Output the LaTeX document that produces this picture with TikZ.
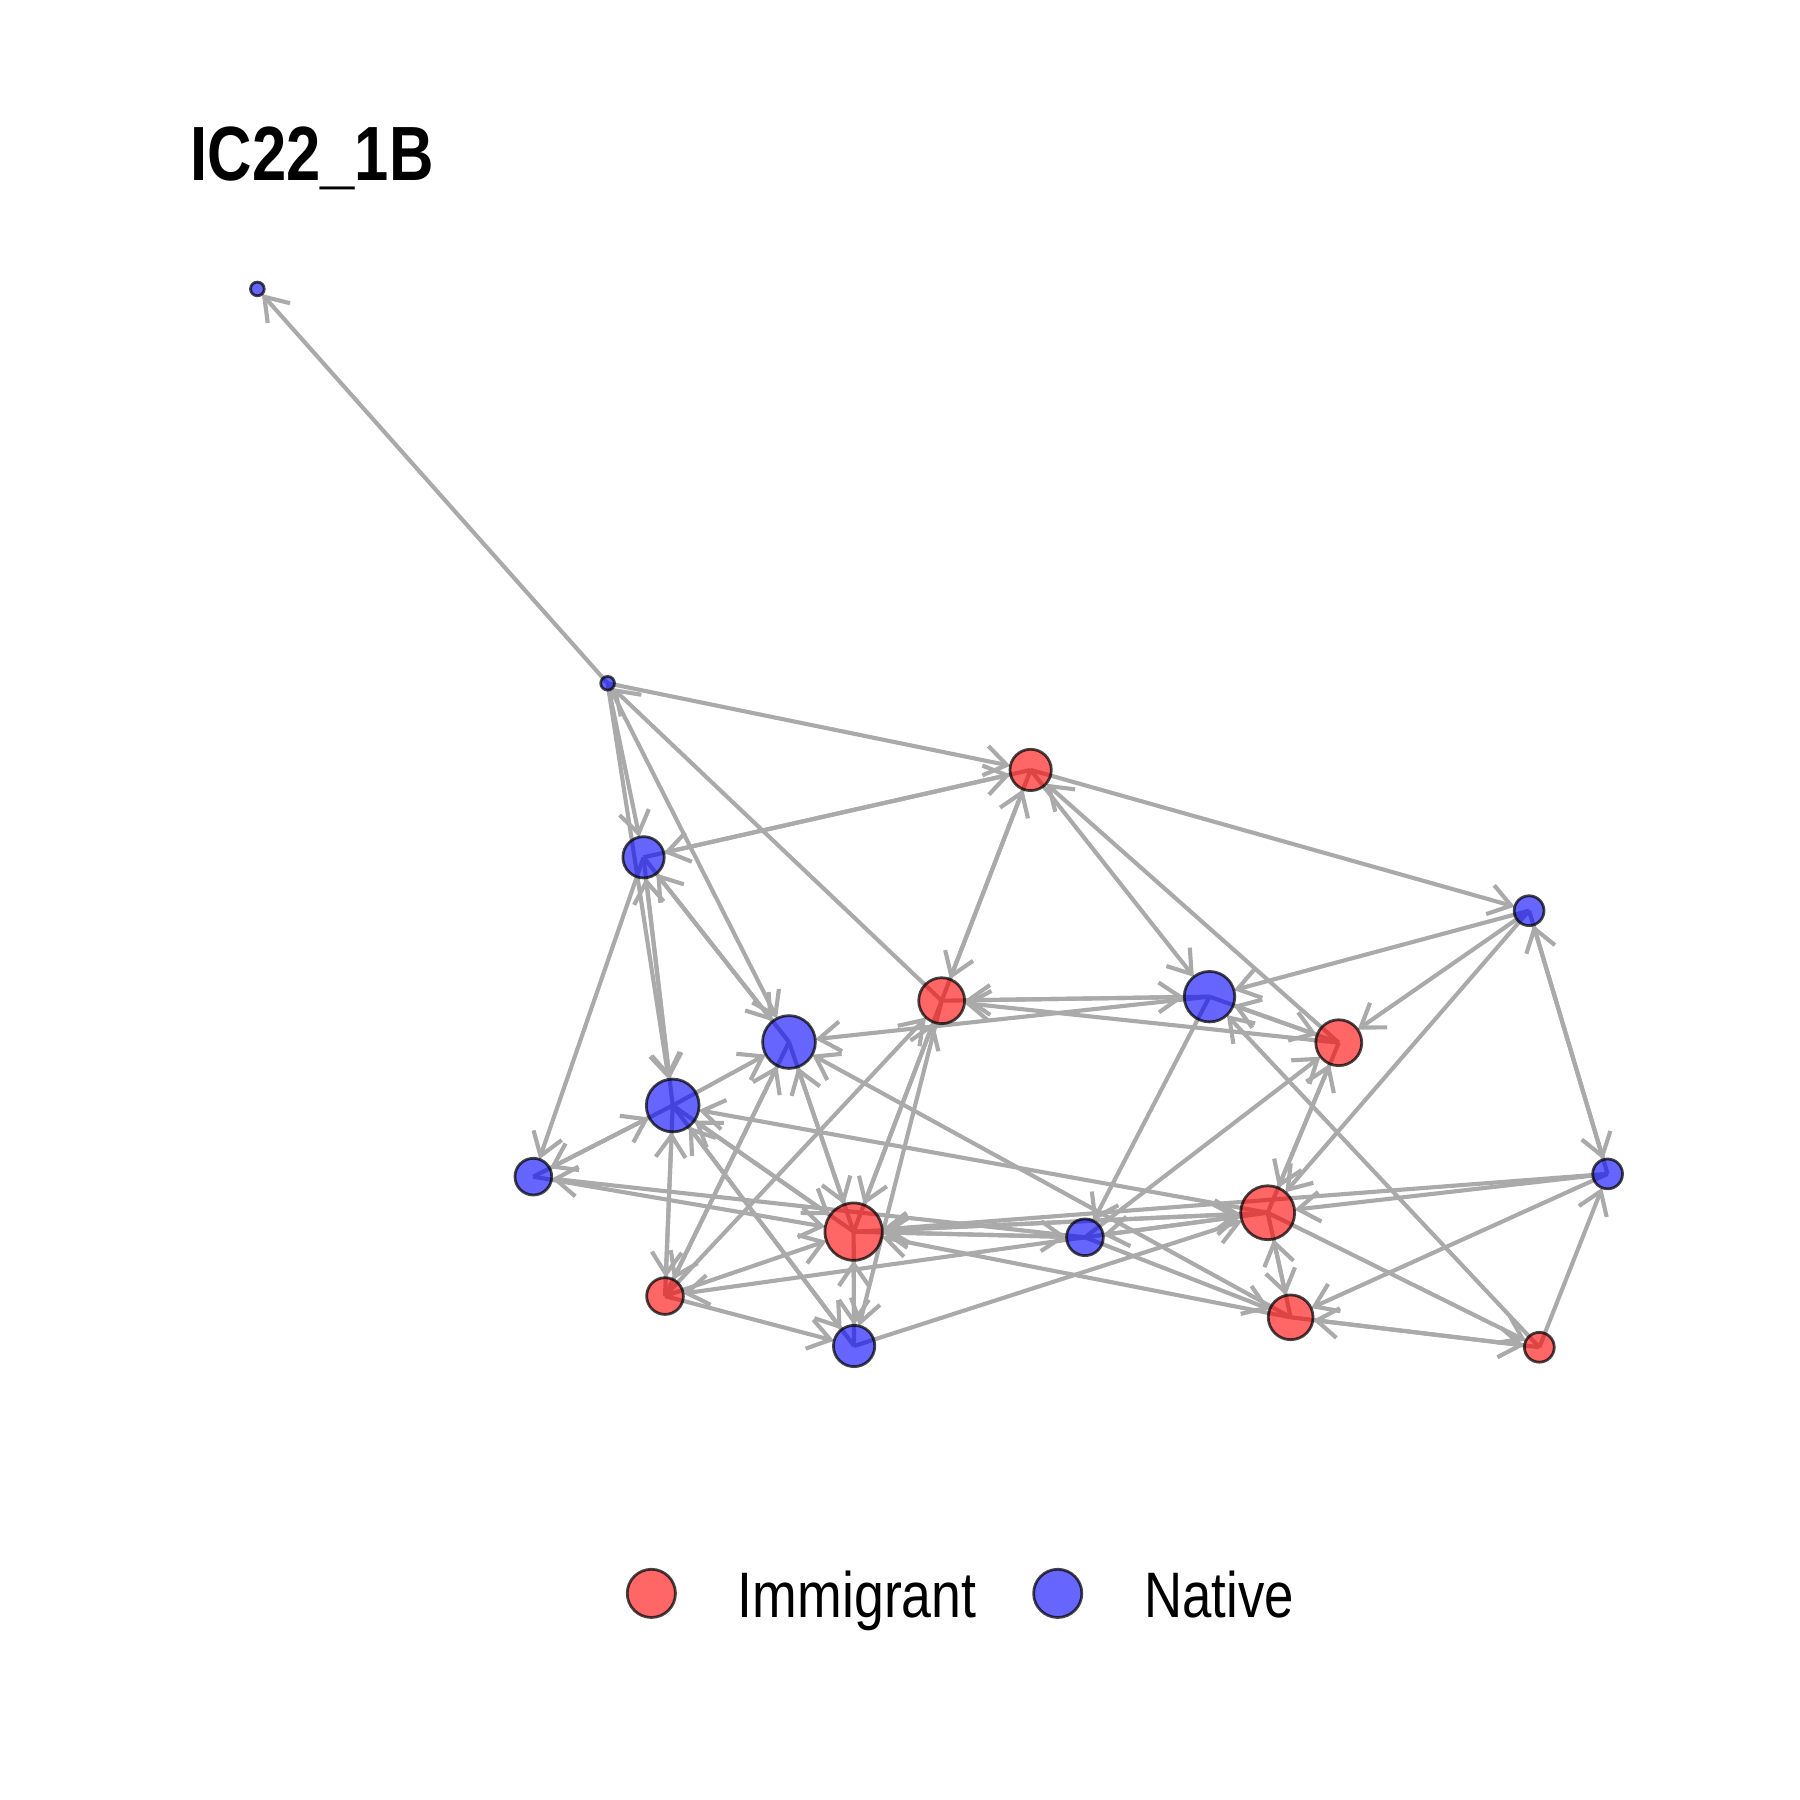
\documentclass[tikz,border=0pt]{standalone}
\usepackage{fontspec}
\setmainfont{Liberation Sans}
\usetikzlibrary{arrows.meta}
\pgfdeclarelayer{edgelayer}
\pgfsetlayers{edgelayer,main}
\definecolor{edgegray}{RGB}{170,170,170}
\tikzset{
  vtx/.style={circle, inner sep=0pt, outer sep=0pt, line width=2.4pt, draw=black, draw opacity=0.72, fill opacity=0.6},
  imm/.style={vtx, fill=red},
  nat/.style={vtx, fill=blue},
  edge/.style={draw=edgegray, line width=3.6pt, -{Straight Barb[length=19pt,width=26pt]}},
}
\begin{document}
\begin{tikzpicture}[x=1pt,y=-1pt]
\useasboundingbox (0,0) rectangle (1568,1568);
\node[anchor=base west, inner sep=0pt] (title) at (166,157) {\fontsize{67}{80}\selectfont\bfseries\scalebox{0.8}[1]{IC22\_1B}};
% vertices
\node[nat, minimum size=12pt] (A) at (224.2,251.7) {};
\node[nat, minimum size=12pt] (B) at (529.3,595.2) {};
\node[imm, minimum size=36pt] (C) at (897.8,670.7) {};
\node[nat, minimum size=36pt] (D) at (560.6,746.8) {};
\node[nat, minimum size=26pt] (E) at (1332,793.3) {};
\node[imm, minimum size=40pt] (F) at (820.3,871.7) {};
\node[nat, minimum size=44pt] (G) at (1053.6,868.2) {};
\node[nat, minimum size=46pt] (H) at (687.3,907.7) {};
\node[imm, minimum size=40pt] (I) at (1166.2,908.3) {};
\node[nat, minimum size=46pt] (J) at (586,963) {};
\node[nat, minimum size=32pt] (K) at (464.6,1025) {};
\node[nat, minimum size=26pt] (L) at (1400.4,1022.6) {};
\node[imm, minimum size=47pt] (M) at (1104.3,1056.4) {};
\node[imm, minimum size=50pt] (N) at (743.6,1072.9) {};
\node[nat, minimum size=32pt] (O) at (945.1,1077.8) {};
\node[imm, minimum size=32pt] (P) at (579.3,1129) {};
\node[nat, minimum size=36pt] (Q) at (744,1172.5) {};
\node[imm, minimum size=39pt] (R) at (1124.3,1147.5) {};
\node[imm, minimum size=26pt] (S) at (1340.9,1173.6) {};
% edges
\begin{pgfonlayer}{edgelayer}
\foreach \s/\t in {B/A, B/C, B/D, B/J, B/H, F/B,
  D/C, C/D, C/F, F/C, C/G, I/C, C/E,
  D/H, H/D, D/K, D/J, J/D,
  E/G, E/I, E/M, E/L, L/E,
  G/F, F/G, G/H, G/O, O/I, S/G, I/G, G/I, I/F,
  J/H, J/K, K/J, K/N, O/K,
  J/N, N/J, J/Q, Q/J, M/J,
  J/P, P/J, P/H, H/P, P/F, P/N, P/Q, O/P,
  N/H, H/N, F/Q, F/N, N/F, Q/N, N/Q, R/N, L/N, N/M, M/N, N/O, O/N,
  R/H, O/R, M/O, O/M, Q/M, I/M, M/I, M/R, R/M, L/M, L/R, M/S, R/S, S/R, S/L}
  \draw[edge] (\s.center) -- (\t);
\end{pgfonlayer}
% legend
\node[imm, minimum size=42pt] (legI) at (567.4,1388) {};
\node[anchor=base west, inner sep=0pt] (legIt) at (642.6,1408.8) {\fontsize{56}{60}\selectfont\scalebox{0.835}[1]{Immigrant}};
\node[nat, minimum size=42pt] (legN) at (921.4,1388) {};
\node[anchor=base west, inner sep=0pt] (legNt) at (996.6,1408.8) {\fontsize{56}{60}\selectfont\scalebox{0.82}[1]{Native}};
\end{tikzpicture}
\end{document}
